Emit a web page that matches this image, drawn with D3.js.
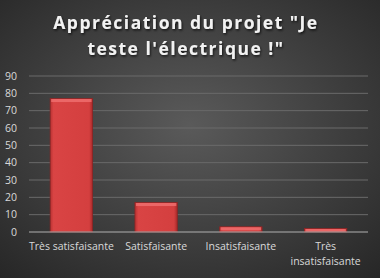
<!DOCTYPE html>
<html>
<head>
<meta charset="utf-8">
<script src="https://cdn.jsdelivr.net/npm/d3@7"></script>
<style>
  body { margin: 0; background: #333; }
  svg { display: block; }
</style>
</head>
<body>
<div id="chart"></div>
<script>
// data
const categories = ["Très satisfaisante", "Satisfaisante", "Insatisfaisante", "Très insatisfaisante"];
const values = [77, 17, 3, 2];
const yTicks = [0, 10, 20, 30, 40, 50, 60, 70, 80, 90];
const titleLines = ["Appréciation du projet \"Je", "teste l'électrique !\""];

var W = 380, H = 278;
var margin = { top: 76, right: 12, bottom: 46, left: 29 };
var width = W - margin.left - margin.right;
var height = H - margin.top - margin.bottom;

var svg = d3.select("#chart").append("svg")
    .attr("width", W)
    .attr("height", H);

var defs = svg.append("defs");

var bg = defs.append("radialGradient").attr("id", "bg")
    .attr("cx", "50%").attr("cy", "45%").attr("r", "75%");
bg.append("stop").attr("offset", "0%").attr("stop-color", "#5a5a5a");
bg.append("stop").attr("offset", "100%").attr("stop-color", "#262626");

var barGrad = defs.append("linearGradient").attr("id", "barGrad")
    .attr("x1", "0").attr("x2", "1").attr("y1", "0").attr("y2", "0");
barGrad.append("stop").attr("offset", "0%").attr("stop-color", "#b83232");
barGrad.append("stop").attr("offset", "8%").attr("stop-color", "#d94444");
barGrad.append("stop").attr("offset", "92%").attr("stop-color", "#d43f3f");
barGrad.append("stop").attr("offset", "100%").attr("stop-color", "#a82a2a");

var shadow = defs.append("filter").attr("id", "tshadow")
    .attr("x", "-10%").attr("y", "-20%").attr("width", "120%").attr("height", "150%");
shadow.append("feDropShadow").attr("dx", 1).attr("dy", 1.5)
    .attr("stdDeviation", 1).attr("flood-color", "#000").attr("flood-opacity", 0.7);

svg.append("rect").attr("width", W).attr("height", H).attr("fill", "url(#bg)");

// title
svg.append("g").attr("filter", "url(#tshadow)")
    .selectAll("text").data(titleLines).enter().append("text")
    .attr("x", 186)
    .attr("y", function (d, i) { return 29 + i * 26; })
    .attr("text-anchor", "middle")
    .attr("font-family", "'Open Sans', sans-serif")
    .attr("font-weight", "bold")
    .attr("font-size", "17.5px")
    .attr("letter-spacing", "1.5px")
    .attr("fill", "#f2f2f2")
    .text(function (d) { return d; });

var g = svg.append("g")
    .attr("transform", "translate(" + margin.left + "," + margin.top + ")");

var x = d3.scaleBand().domain(categories).range([0, width]).paddingInner(0.5).paddingOuter(0.25);
var y = d3.scaleLinear().domain([0, 90]).range([height, 0]);

// gridlines
g.selectAll(".grid").data(yTicks.slice(1)).enter().append("line")
    .attr("x1", 0).attr("x2", width)
    .attr("y1", function (d) { return y(d); })
    .attr("y2", function (d) { return y(d); })
    .attr("stroke", "#6a6a6a").attr("stroke-width", 1);

// y labels
g.selectAll(".ylab").data(yTicks).enter().append("text")
    .attr("x", -12)
    .attr("y", function (d) { return y(d); })
    .attr("dy", "0.35em")
    .attr("text-anchor", "end")
    .attr("font-family", "'Open Sans', sans-serif")
    .attr("font-size", "10.5px")
    .attr("fill", "#d9d9d9")
    .text(function (d) { return d; });

// bars
var bars = g.selectAll(".bar").data(values).enter().append("g");
bars.append("rect")
    .attr("x", function (d, i) { return x(categories[i]); })
    .attr("y", function (d) { return y(d); })
    .attr("width", x.bandwidth())
    .attr("height", function (d) { return height - y(d); })
    .attr("fill", "url(#barGrad)")
    .attr("stroke", "#8e2424").attr("stroke-width", 0.8);
bars.append("rect")
    .attr("x", function (d, i) { return x(categories[i]) + 1; })
    .attr("y", function (d) { return y(d) + 0.5; })
    .attr("width", x.bandwidth() - 2)
    .attr("height", function (d) { return Math.min(3, height - y(d) - 1); })
    .attr("fill", "#f07070").attr("opacity", 0.8);

// axis line
g.append("line").attr("x1", 0).attr("x2", width)
    .attr("y1", height).attr("y2", height)
    .attr("stroke", "#b0b0b0").attr("stroke-width", 1);

// x labels
var xl = g.selectAll(".xlab").data(categories).enter().append("text")
    .attr("x", function (d) { return x(d) + x.bandwidth() / 2; })
    .attr("y", height + 18)
    .attr("text-anchor", "middle")
    .attr("font-family", "'Open Sans', sans-serif")
    .attr("font-size", "10.5px")
    .attr("fill", "#d9d9d9");
xl.each(function (d) {
    var t = d3.select(this);
    var lines = d === "Très insatisfaisante" ? ["Très", "insatisfaisante"] : [d];
    lines.forEach(function (l, i) {
        t.append("tspan").attr("x", t.attr("x")).attr("dy", i === 0 ? 0 : 15).text(l);
    });
});
</script>
</body>
</html>
